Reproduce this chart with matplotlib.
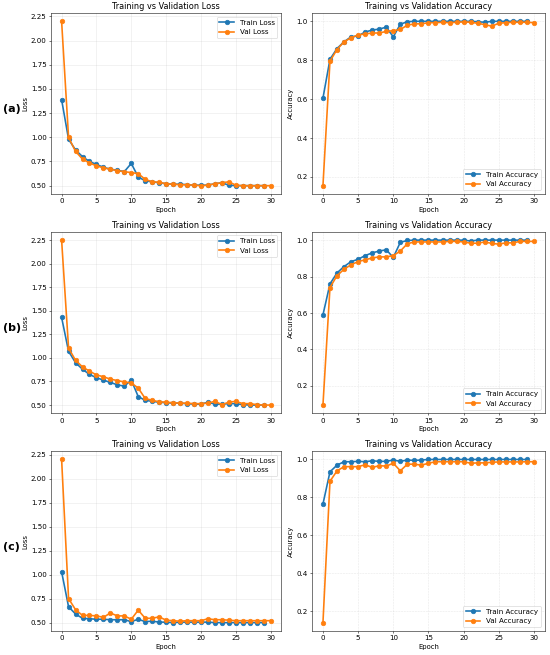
import matplotlib
matplotlib.use("Agg")
import matplotlib.pyplot as plt
import numpy as np

panel_labels = ['(a)', '(b)', '(c)']

train_loss = [
    [1.39, 0.98, 0.87, 0.80, 0.75, 0.72, 0.69, 0.67, 0.66, 0.645,
     0.73, 0.59, 0.55, 0.54, 0.53, 0.52, 0.515, 0.515, 0.51, 0.505,
     0.505, 0.505, 0.52, 0.53, 0.505, 0.50, 0.50, 0.50, 0.50, 0.50],
    [1.43, 1.07, 0.95, 0.88, 0.825, 0.79, 0.765, 0.74, 0.715, 0.70,
     0.765, 0.59, 0.55, 0.54, 0.53, 0.525, 0.52, 0.52, 0.515, 0.51,
     0.51, 0.53, 0.51, 0.51, 0.515, 0.515, 0.505, 0.50, 0.50, 0.50],
    [1.03, 0.665, 0.59, 0.545, 0.54, 0.535, 0.535, 0.53, 0.53, 0.53,
     0.51, 0.535, 0.51, 0.515, 0.505, 0.505, 0.50, 0.505, 0.505, 0.505,
     0.505, 0.505, 0.50, 0.50, 0.50, 0.50, 0.50, 0.50, 0.50, 0.50],
]
val_loss = [
    [2.20, 1.00, 0.855, 0.775, 0.735, 0.705, 0.685, 0.67, 0.655, 0.645,
     0.635, 0.625, 0.565, 0.54, 0.535, 0.52, 0.515, 0.51, 0.51, 0.505,
     0.50, 0.505, 0.52, 0.53, 0.54, 0.505, 0.50, 0.50, 0.50, 0.50, 0.50],
    [2.25, 1.105, 0.975, 0.905, 0.86, 0.82, 0.80, 0.775, 0.76, 0.745,
     0.735, 0.68, 0.57, 0.55, 0.535, 0.53, 0.525, 0.52, 0.52, 0.515,
     0.515, 0.52, 0.54, 0.505, 0.53, 0.54, 0.515, 0.515, 0.505, 0.50, 0.50],
    [2.20, 0.75, 0.635, 0.575, 0.575, 0.57, 0.555, 0.60, 0.57, 0.57,
     0.535, 0.63, 0.545, 0.545, 0.56, 0.525, 0.52, 0.515, 0.52, 0.52,
     0.52, 0.54, 0.53, 0.53, 0.525, 0.52, 0.52, 0.52, 0.52, 0.52, 0.52],
]
train_acc = [
    [0.605, 0.805, 0.86, 0.895, 0.92, 0.925, 0.945, 0.955, 0.96, 0.97,
     0.92, 0.985, 0.998, 1.0, 1.0, 1.0, 1.0, 1.0, 1.0, 1.0,
     1.0, 1.0, 0.998, 0.995, 1.0, 1.0, 1.0, 1.0, 1.0, 1.0],
    [0.59, 0.76, 0.82, 0.855, 0.882, 0.895, 0.915, 0.93, 0.94, 0.947,
     0.905, 0.988, 0.998, 1.0, 1.0, 1.0, 1.0, 1.0, 1.0, 1.0,
     1.0, 0.995, 1.0, 1.0, 1.0, 1.0, 1.0, 1.0, 1.0, 1.0],
    [0.765, 0.935, 0.97, 0.988, 0.988, 0.99, 0.988, 0.993, 0.99, 0.99,
     0.997, 0.99, 0.997, 0.995, 0.997, 1.0, 1.0, 1.0, 1.0, 1.0,
     1.0, 1.0, 1.0, 1.0, 1.0, 1.0, 1.0, 1.0, 1.0, 1.0],
]
val_acc = [
    [0.155, 0.795, 0.855, 0.895, 0.915, 0.93, 0.935, 0.94, 0.94, 0.948,
     0.952, 0.958, 0.98, 0.987, 0.987, 0.993, 0.993, 0.995, 0.993, 0.995,
     0.997, 0.995, 0.99, 0.983, 0.975, 0.99, 0.993, 0.995, 0.995, 0.995, 0.993],
    [0.095, 0.74, 0.805, 0.84, 0.865, 0.882, 0.892, 0.902, 0.908, 0.908,
     0.915, 0.94, 0.98, 0.99, 0.99, 0.99, 0.99, 0.99, 0.993, 0.993,
     0.99, 0.983, 0.983, 0.99, 0.982, 0.978, 0.985, 0.985, 0.993, 0.993, 0.993],
    [0.14, 0.885, 0.94, 0.962, 0.962, 0.962, 0.972, 0.958, 0.967, 0.965,
     0.98, 0.94, 0.975, 0.975, 0.97, 0.98, 0.988, 0.988, 0.988, 0.988,
     0.988, 0.98, 0.982, 0.982, 0.985, 0.987, 0.987, 0.987, 0.987, 0.988, 0.988],
]

DPI = 47
fig = plt.figure(figsize=(550 / DPI, 655 / DPI), dpi=DPI)
plt.rcParams['xtick.labelsize'] = 11
plt.rcParams['ytick.labelsize'] = 11
plt.rcParams['axes.labelsize'] = 10.5
plt.rcParams['legend.fontsize'] = 11
plt.rcParams['axes.titlesize'] = 12.5

rows = [(0.704, 0.980), (0.369, 0.646), (0.037, 0.311)]
left_x = (0.093, 0.511)
right_x = (0.568, 0.990)

for i, (y0, y1) in enumerate(rows):
    ax1 = fig.add_axes([left_x[0], y0, left_x[1] - left_x[0], y1 - y0])
    ax2 = fig.add_axes([right_x[0], y0, right_x[1] - right_x[0], y1 - y0])

    ax1.plot(np.arange(len(train_loss[i])), train_loss[i], marker='o', ms=7, lw=2.5, label='Train Loss')
    ax1.plot(np.arange(len(val_loss[i])), val_loss[i], marker='o', ms=7, lw=2.5, label='Val Loss')
    ax1.set_title('Training vs Validation Loss')
    ax1.set_xlabel('Epoch')
    ax1.set_ylabel('Loss')
    ax1.set_yticks([0.5, 0.75, 1.0, 1.25, 1.5, 1.75, 2.0, 2.25])
    ax1.legend(loc='upper right')
    ax1.grid(True, alpha=0.3)

    ax2.plot(np.arange(len(train_acc[i])), train_acc[i], marker='o', ms=7, lw=2.5, label='Train Accuracy')
    ax2.plot(np.arange(len(val_acc[i])), val_acc[i], marker='o', ms=7, lw=2.5, label='Val Accuracy')
    ax2.set_title('Training vs Validation Accuracy')
    ax2.set_xlabel('Epoch')
    ax2.set_ylabel('Accuracy')
    ax2.legend(loc='lower right')
    ax2.grid(True, linestyle='--', alpha=0.3)

    fig.text(0.006, (y0 + y1) / 2 - 0.009, panel_labels[i], fontsize=17,
             fontweight='bold', va='center', ha='left')

fig.savefig('out.png', dpi=DPI)
